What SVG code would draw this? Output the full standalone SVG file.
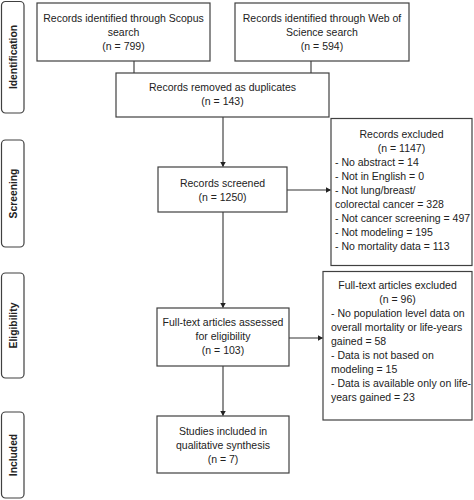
<svg xmlns="http://www.w3.org/2000/svg" width="474" height="500" viewBox="0 0 474 500">
<defs>
<marker id="arr" markerWidth="6" markerHeight="6" refX="5" refY="3" orient="auto" markerUnits="userSpaceOnUse">
<path d="M0,0 L5.5,3 L0,6 Z" fill="#222"/>
</marker>
<style>
.box{fill:#fff;stroke:#404040;stroke-width:1.2}
.side{fill:#fff;stroke:#404040;stroke-width:1.2}
text{font-family:"Liberation Sans",Arial,sans-serif;font-size:10.5px;fill:#222}
.c{text-anchor:middle}
.lbl{font-weight:bold;font-size:10.3px;text-anchor:middle}
.ln{fill:none;stroke:#333;stroke-width:1.1}
</style>
</defs>
<rect width="474" height="500" fill="#fff"/>
<g id="stage-identification">
<rect class="side" x="1.5" y="1.5" width="22.5" height="111.5" rx="4"/>
<text class="lbl" transform="translate(17,57) rotate(-90)">Identification</text>
</g>
<g id="stage-screening">
<rect class="side" x="1.5" y="140" width="22.5" height="107" rx="4"/>
<text class="lbl" transform="translate(17,193.5) rotate(-90)">Screening</text>
</g>
<g id="stage-eligibility">
<rect class="side" x="1.5" y="273" width="22.5" height="105" rx="4"/>
<text class="lbl" transform="translate(17,325.5) rotate(-90)">Eligibility</text>
</g>
<g id="stage-included">
<rect class="side" x="1.5" y="412" width="22.5" height="86" rx="4"/>
<text class="lbl" transform="translate(17,455) rotate(-90)">Included</text>
</g>
<g id="connectors">
<line class="ln" x1="134" y1="61" x2="134" y2="73"/>
<line class="ln" x1="311" y1="61" x2="311" y2="73"/>
<line class="ln" x1="223" y1="117" x2="223" y2="166.5" marker-end="url(#arr)"/>
<line class="ln" x1="287" y1="190" x2="330.5" y2="190" marker-end="url(#arr)"/>
<line class="ln" x1="223" y1="212" x2="223" y2="307.5" marker-end="url(#arr)"/>
<line class="ln" x1="289" y1="338" x2="322.5" y2="338" marker-end="url(#arr)"/>
<line class="ln" x1="223" y1="366" x2="223" y2="415.5" marker-end="url(#arr)"/>
</g>
<g id="scopus">
<rect class="box" x="37" y="3" width="173" height="58"/>
<text class="c" x="123.5" y="21.5">Records identified through Scopus</text>
<text class="c" x="123.5" y="35.5">search</text>
<text class="c" x="123.5" y="49.5">(n = 799)</text>
</g>
<g id="wos">
<rect class="box" x="235" y="3" width="174" height="58"/>
<text class="c" x="322" y="21.5">Records identified through Web of</text>
<text class="c" x="322" y="35.5">Science search</text>
<text class="c" x="322" y="49.5">(n = 594)</text>
</g>
<g id="duplicates">
<rect class="box" x="116" y="73" width="213" height="44"/>
<text class="c" x="222.5" y="91">Records removed as duplicates</text>
<text class="c" x="222.5" y="104.5">(n = 143)</text>
</g>
<g id="screened">
<rect class="box" x="158" y="167" width="129" height="45"/>
<text class="c" x="222.5" y="186.5">Records screened</text>
<text class="c" x="222.5" y="200.5">(n = 1250)</text>
</g>
<g id="records-excluded">
<rect class="box" x="331" y="118.5" width="141" height="147"/>
<text class="c" x="401.5" y="138">Records excluded</text>
<text class="c" x="401.5" y="152">(n = 1147)</text>
<text x="335" y="166">- No abstract = 14</text>
<text x="335" y="180">- Not in English = 0</text>
<text x="335" y="194">- Not lung/breast/</text>
<text x="335" y="208">colorectal cancer = 328</text>
<text x="335" y="222">- Not cancer screening = 497</text>
<text x="335" y="236">- Not modeling = 195</text>
<text x="335" y="250">- No mortality data = 113</text>
</g>
<g id="fulltext">
<rect class="box" x="157" y="308" width="132" height="58"/>
<text class="c" x="223" y="326">Full-text articles assessed</text>
<text class="c" x="223" y="340">for eligibility</text>
<text class="c" x="223" y="354">(n = 103)</text>
</g>
<g id="fulltext-excluded">
<rect class="box" x="323" y="271.5" width="149" height="148.5"/>
<text class="c" x="397.5" y="288.5">Full-text articles excluded</text>
<text class="c" x="397.5" y="302.5">(n = 96)</text>
<text x="331" y="316.5">- No population level data on</text>
<text x="331" y="330.5">overall mortality or life-years</text>
<text x="331" y="344.5">gained = 58</text>
<text x="331" y="358.5">- Data is not based on</text>
<text x="331" y="372.5">modeling = 15</text>
<text x="331" y="386.5">- Data is available only on life-</text>
<text x="331" y="400.5">years gained = 23</text>
</g>
<g id="included">
<rect class="box" x="157" y="416" width="132" height="57"/>
<text class="c" x="223" y="434.5">Studies included in</text>
<text class="c" x="223" y="448.5">qualitative synthesis</text>
<text class="c" x="223" y="462.5">(n = 7)</text>
</g>
</svg>
